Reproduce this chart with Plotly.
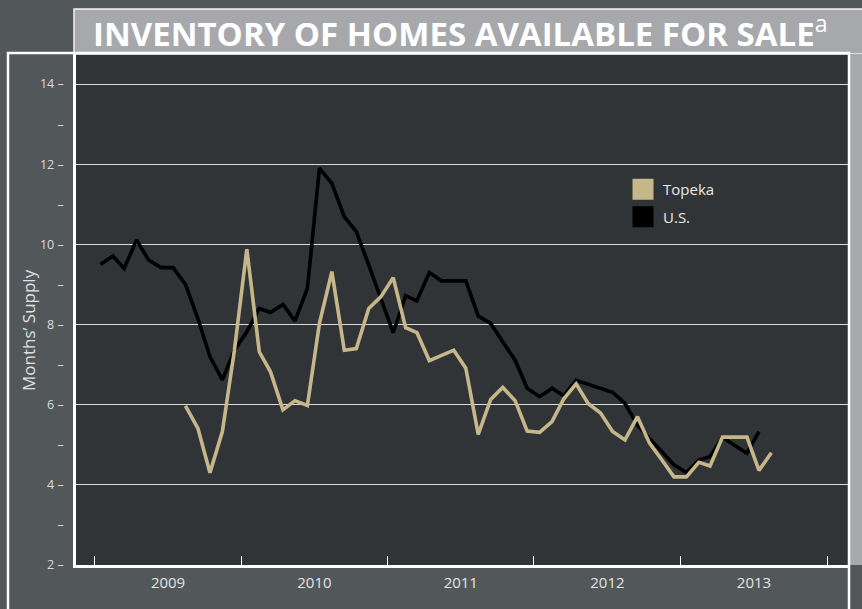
import plotly.graph_objects as go

# ---------------- data ----------------
us_start = (2009, 1)
us_values = [9.50, 9.71, 9.40, 10.11, 9.61, 9.42, 9.42, 9.00, 8.15, 7.20, 6.62, 7.36,
             7.82, 8.40, 8.30, 8.50, 8.09, 8.90, 11.90, 11.52, 10.69, 10.32, 9.48, 8.65,
             7.80, 8.72, 8.59, 9.30, 9.09, 9.09, 9.09, 8.21, 8.03, 7.57, 7.11, 6.41,
             6.20, 6.41, 6.22, 6.61, 6.51, 6.41, 6.31, 6.03, 5.49, 5.16, 4.83, 4.50,
             4.31, 4.62, 4.70, 5.19, 4.99, 4.79, 5.33]
topeka_start = (2009, 8)
topeka_values = [5.97, 5.41, 4.30, 5.33, 7.36,
                 9.88, 7.32, 6.82, 5.87, 6.10, 5.98, 8.03, 9.32, 7.36, 7.40, 8.40, 8.69,
                 9.17, 7.92, 7.80, 7.10, 7.24, 7.36, 6.91, 5.26, 6.13, 6.43, 6.10, 5.34,
                 5.31, 5.58, 6.14, 6.52, 6.03, 5.79, 5.33, 5.12, 5.70, 5.04, 4.62, 4.20,
                 4.20, 4.56, 4.47, 5.19, 5.19, 5.19, 4.36, 4.80]
series_names = ["Topeka", "U.S."]
year_ticks = ["2009-01-01", "2014-01-01"]
y_ticks = [2, 3, 4, 5, 6, 7, 8, 9, 10, 11, 12, 13, 14]
y_tick_text = ["2 \u2013", "\u2013", "4 \u2013", "\u2013", "6 \u2013", "\u2013", "8 \u2013",
               "\u2013", "10 \u2013", "\u2013", "12 \u2013", "\u2013", "14 \u2013"]
y_grid = [4, 6, 8, 10, 12, 14]


def month_dates(start, n):
    y, m = start
    out = []
    for i in range(n):
        mm = m - 1 + i
        out.append(f"{y + mm // 12}-{mm % 12 + 1:02d}-15")
    return out


us_dates = month_dates(us_start, len(us_values))
topeka_dates = month_dates(topeka_start, len(topeka_values))

# ---------------- style ----------------
W, H = 862, 609
L, R, T, B = 76, 848, 54, 565
TAN = "#c6b78b"
FONT = "Open Sans"
PAPER = "#52575a"


def px(x):
    return (x - L) / (R - L)


def py(y):
    return (B - y) / (B - T)


fig = go.Figure()
fig.add_trace(go.Scatter(x=us_dates, y=us_values, mode="lines", name=series_names[1],
                         line=dict(color="#000000", width=3.6), showlegend=False))
fig.add_trace(go.Scatter(x=topeka_dates, y=topeka_values, mode="lines", name=series_names[0],
                         line=dict(color=TAN, width=3.6), showlegend=False))
# legend swatches
fig.add_trace(go.Scatter(x=[None], y=[None], mode="markers", name=series_names[0], legendgroup="a",
                         marker=dict(symbol="square", size=16, color=TAN, line=dict(color=TAN, width=5))))
fig.add_trace(go.Scatter(x=[None], y=[None], mode="markers", name=series_names[1], legendgroup="b",
                         marker=dict(symbol="square", size=16, color="#000000", line=dict(color="#000000", width=5))))

shapes = [
    # title banner
    dict(type="rect", xref="paper", yref="paper", x0=px(74), x1=px(880), y0=py(54), y1=py(9),
         fillcolor="#a7a8ab", line=dict(color="#f2f2f2", width=1.5), layer="below"),
    # right grey strip
    dict(type="rect", xref="paper", yref="paper", x0=px(849), x1=px(880), y0=py(565), y1=py(54),
         fillcolor="#a7a8ab", line=dict(width=0), layer="below"),
    # outer white frame
    dict(type="path", xref="paper", yref="paper",
         path=f"M {px(8)},{py(620)} L {px(8)},{py(53)} L {px(849)},{py(53)} L {px(849)},{py(620)}",
         line=dict(color="#ffffff", width=2.5)),
]

fig.update_layout(
    template="none",
    width=W, height=H,
    margin=dict(l=L, r=W - R, t=T, b=H - B, autoexpand=False),
    paper_bgcolor=PAPER,
    plot_bgcolor="#303437",
    font=dict(family=FONT, color="#e4e4e4", size=13),
    shapes=shapes,
    showlegend=True,
    legend=dict(x=px(623), y=py(173), xanchor="left", yanchor="top",
                bgcolor="rgba(0,0,0,0)", font=dict(size=15, color="#e8e8e8"),
                tracegroupgap=5, itemsizing="trace"),
    xaxis=dict(type="date", range=["2008-11-15", "2014-02-22"], automargin=False,
               tick0=year_ticks[0], dtick="M12", tickformat="%Y", ticklabelmode="period",
               ticks="inside", ticklen=9, tickwidth=1, tickcolor="#ffffff",
               showgrid=False, zeroline=False, showline=True, linecolor="#ffffff", linewidth=2.5,
               tickfont=dict(size=15, color="#e4e4e4"), ticklabelstandoff=2),
    yaxis=dict(range=[2, 14.75], automargin=False, tickmode="array",
               tickvals=y_ticks, ticktext=y_tick_text,
               ticks="", showgrid=False, zeroline=False,
               showline=True, linecolor="#ffffff", linewidth=2.5,
               minor=dict(tickmode="array", tickvals=y_grid, showgrid=True,
                          gridcolor="#dcdcdc", gridwidth=1.2, ticks=""),
               tickfont=dict(size=12.5, color="#dcdcdc"), ticklabelstandoff=7),
    annotations=[
        dict(text="INVENTORY OF HOMES AVAILABLE FOR SALE<sup><span style='font-weight:normal'>a</span></sup>",
             xref="paper", yref="paper",
             x=px(91), y=py(31.5), xanchor="left", yanchor="middle", showarrow=False,
             font=dict(family=FONT, size=33, color="#ffffff", weight="bold")),
        dict(text="Months\u2019 Supply", xref="paper", yref="paper", x=px(28), y=py(330),
             xanchor="center", yanchor="middle", textangle=-90, showarrow=False,
             font=dict(family=FONT, size=17, color="#e0e0e0")),
    ],
)

fig.write_html(
    "out.html",
    config={"displayModeBar": False},
    post_script=f"document.body.style.margin='0';document.body.style.background='{PAPER}';",
)
